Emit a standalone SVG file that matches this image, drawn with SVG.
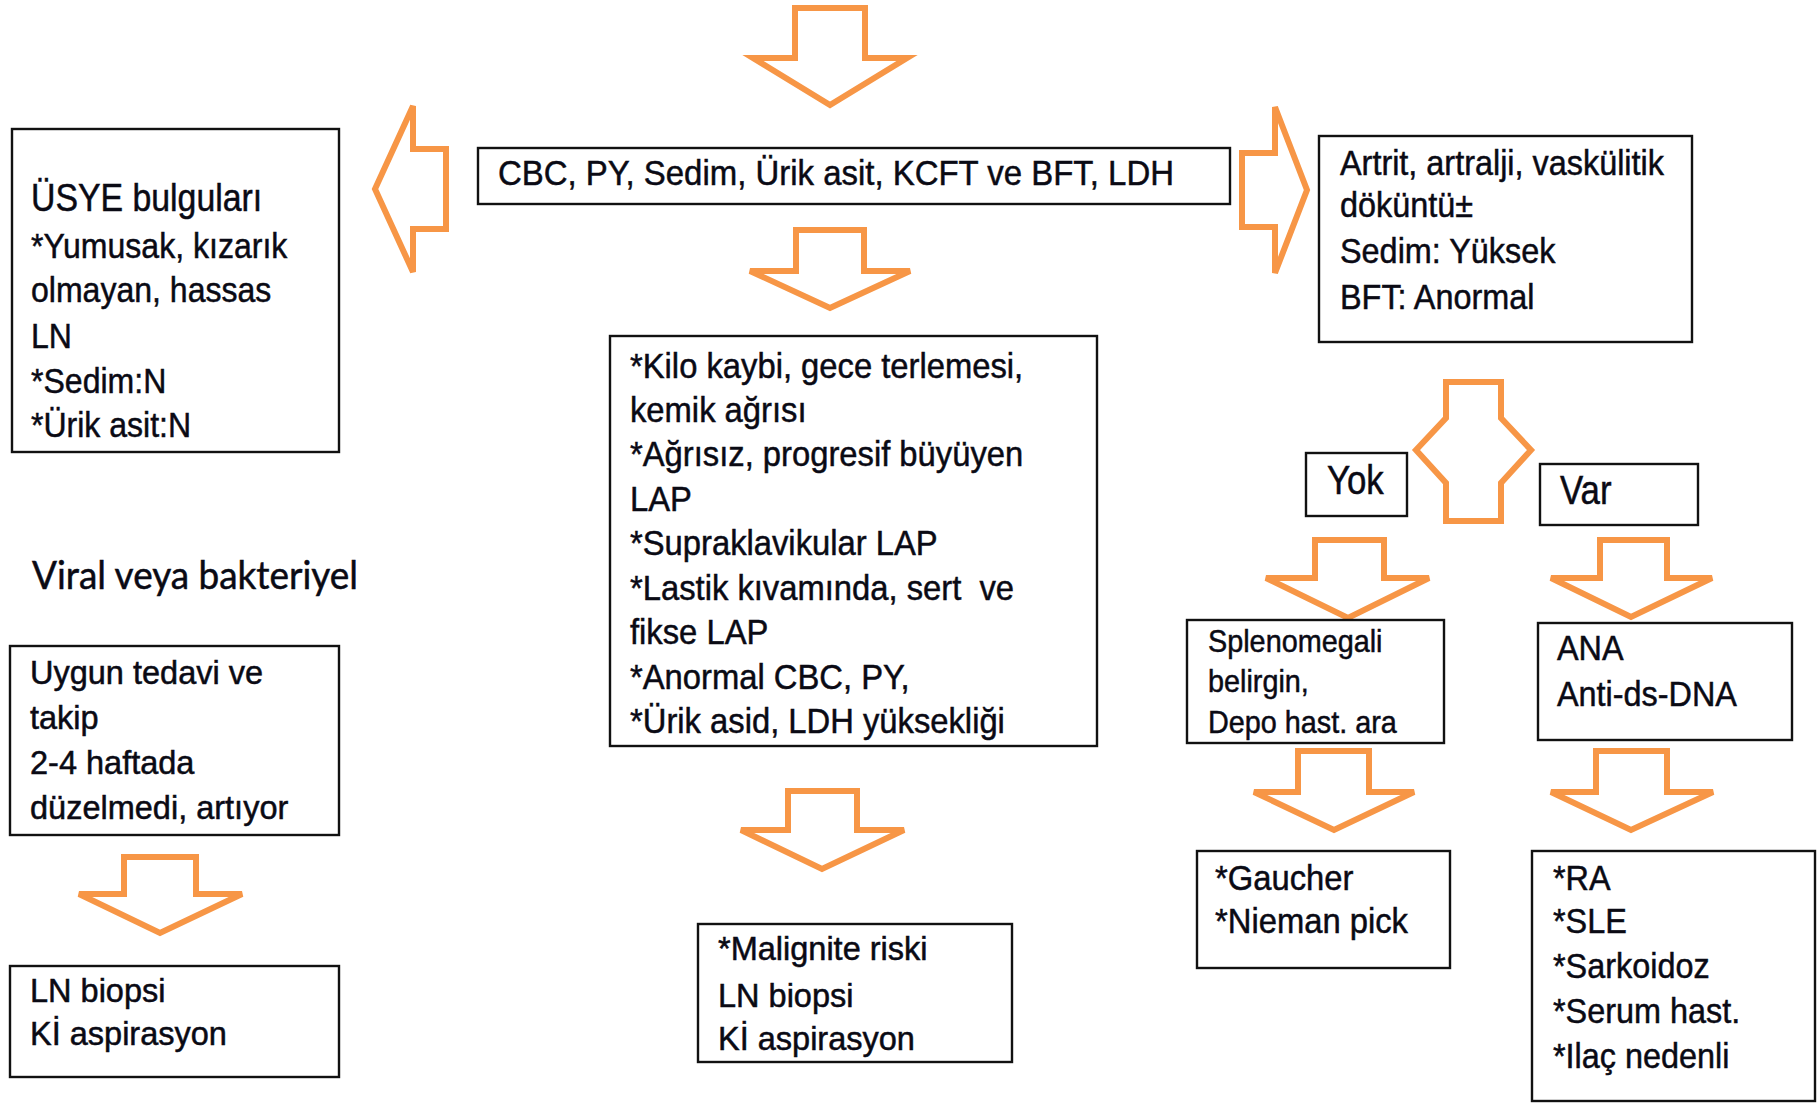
<svg xmlns="http://www.w3.org/2000/svg" width="1818" height="1103" viewBox="0 0 1818 1103">
<style>
.box{fill:#fff;stroke:#111;stroke-width:2.4}
.arr{fill:none;stroke:#F79646;stroke-width:6;stroke-linejoin:miter}
text{font-family:"Liberation Sans",Arial,sans-serif;fill:#0a0a14;stroke:#0a0a14;stroke-width:0.5}
.b{font-size:36px}
.n{font-size:32.5px}
.s{font-size:32px}
.yv{font-size:40px}
.cal{font-family:Lato,"Open Sans",sans-serif;font-size:38px}
</style>
<rect width="1818" height="1103" fill="#fff"/>
<g id="connectors">
<polygon class="arr" points="795,8 865,8 865,58 907,58 830,105 753,58 795,58"/>
<polygon class="arr" points="796,230 864,230 864,271 910,271 830,308 750,271 796,271"/>
<polygon class="arr" points="788,791 857,791 857,830 904,830 822,869 741,830 788,830"/>
<polygon class="arr" points="124,857 196,857 196,894 242,894 160,933 79,894 124,894"/>
<polygon class="arr" points="375,189 413,106 413,149 446,149 446,229 413,229 413,272"/>
<polygon class="arr" points="1242,153 1275,153 1275,107 1307,190 1275,273 1275,227 1242,227"/>
<polygon class="arr" points="1446,382 1501,382 1501,418 1531,450 1501,483 1501,521 1446,521 1446,483 1416,450 1446,418"/>
<polygon class="arr" points="1315,540 1384,540 1384,578 1429,578 1348,618 1266,578 1315,578"/>
<polygon class="arr" points="1600,540 1667,540 1667,578 1712,578 1631,617 1551,578 1600,578"/>
<polygon class="arr" points="1298,751 1369,751 1369,792 1414,792 1334,830 1254,792 1298,792"/>
<polygon class="arr" points="1596,751 1667,751 1667,792 1713,792 1631,830 1551,792 1596,792"/>
</g>
<g id="n-cbc">
<rect class="box" x="478" y="148" width="752" height="56"/>
<text class="b" transform="translate(498 0) scale(0.915 1)"><tspan x="0" y="185">CBC, PY, Sedim, Ürik asit, KCFT ve BFT, LDH</tspan></text>
</g>
<g id="n-usye">
<rect class="box" x="12" y="129" width="327" height="323"/>
<text class="b" transform="translate(31 0) scale(0.89 1)"><tspan x="0" y="211" style="font-size:38px">ÜSYE bulguları</tspan><tspan x="0" y="258">*Yumusak, kızarık</tspan><tspan x="0" y="302">olmayan, hassas</tspan><tspan x="0" y="348">LN</tspan><tspan x="0" y="393">*Sedim:N</tspan><tspan x="0" y="437">*Ürik asit:N</tspan></text>
</g>
<g id="n-viral">
<text class="cal" x="32" y="589" textLength="326" lengthAdjust="spacingAndGlyphs">Viral veya bakteriyel</text>
</g>
<g id="n-uygun">
<rect class="box" x="10" y="646" width="329" height="189"/>
<text class="n"><tspan x="30" y="684">Uygun tedavi ve</tspan><tspan x="30" y="729">takip</tspan><tspan x="30" y="774">2-4 haftada</tspan><tspan x="30" y="819">düzelmedi, artıyor</tspan></text>
</g>
<g id="n-lnbiopsi">
<rect class="box" x="10" y="966" width="329" height="111"/>
<text class="n"><tspan x="30" y="1002">LN biopsi</tspan><tspan x="30" y="1045">Kİ aspirasyon</tspan></text>
</g>
<g id="n-malign-signs">
<rect class="box" x="610" y="336" width="487" height="410"/>
<text class="b" transform="translate(630 0) scale(0.91 1)"><tspan x="0" y="378">*Kilo kaybi, gece terlemesi,</tspan><tspan x="0" y="422">kemik ağrısı</tspan><tspan x="0" y="466">*Ağrısız, progresif büyüyen</tspan><tspan x="0" y="511">LAP</tspan><tspan x="0" y="555">*Supraklavikular LAP</tspan><tspan x="0" y="600" xml:space="preserve">*Lastik kıvamında, sert  ve</tspan><tspan x="0" y="644">fikse LAP</tspan><tspan x="0" y="689">*Anormal CBC, PY,</tspan><tspan x="0" y="733">*Ürik asid, LDH yüksekliği</tspan></text>
</g>
<g id="n-malignite">
<rect class="box" x="698" y="924" width="314" height="138"/>
<text class="n"><tspan x="718" y="960">*Malignite riski</tspan><tspan x="718" y="1007">LN biopsi</tspan><tspan x="718" y="1050">Kİ aspirasyon</tspan></text>
</g>
<g id="n-artrit">
<rect class="box" x="1319" y="136" width="373" height="206"/>
<text class="b" transform="translate(1340 0) scale(0.9 1)"><tspan x="0" y="175">Artrit, artralji, vaskülitik</tspan><tspan x="0" y="217">döküntü±</tspan><tspan x="0" y="263">Sedim: Yüksek</tspan><tspan x="0" y="309">BFT: Anormal</tspan></text>
</g>
<g id="n-yok">
<rect class="box" x="1306" y="453" width="101" height="63"/>
<text class="yv" transform="translate(1327 0) scale(0.87 1)"><tspan x="0" y="494">Yok</tspan></text>
</g>
<g id="n-var">
<rect class="box" x="1540" y="464" width="158" height="61"/>
<text class="yv" transform="translate(1560 0) scale(0.87 1)"><tspan x="0" y="504">Var</tspan></text>
</g>
<g id="n-spleno">
<rect class="box" x="1187" y="620" width="257" height="123"/>
<text class="s" transform="translate(1208 0) scale(0.9 1)"><tspan x="0" y="652">Splenomegali</tspan><tspan x="0" y="692">belirgin,</tspan><tspan x="0" y="733">Depo hast. ara</tspan></text>
</g>
<g id="n-ana">
<rect class="box" x="1538" y="623" width="254" height="117"/>
<text class="b" transform="translate(1557 0) scale(0.9 1)"><tspan x="0" y="660">ANA</tspan><tspan x="0" y="706">Anti-ds-DNA</tspan></text>
</g>
<g id="n-gaucher">
<rect class="box" x="1197" y="851" width="253" height="117"/>
<text class="b" transform="translate(1215 0) scale(0.91 1)"><tspan x="0" y="890">*Gaucher</tspan><tspan x="0" y="933">*Nieman pick</tspan></text>
</g>
<g id="n-ra">
<rect class="box" x="1532" y="851" width="283" height="250"/>
<text class="b" transform="translate(1553 0) scale(0.9 1)"><tspan x="0" y="890">*RA</tspan><tspan x="0" y="933">*SLE</tspan><tspan x="0" y="978">*Sarkoidoz</tspan><tspan x="0" y="1023">*Serum hast.</tspan><tspan x="0" y="1068">*Ilaç nedenli</tspan></text>
</g>
</svg>
